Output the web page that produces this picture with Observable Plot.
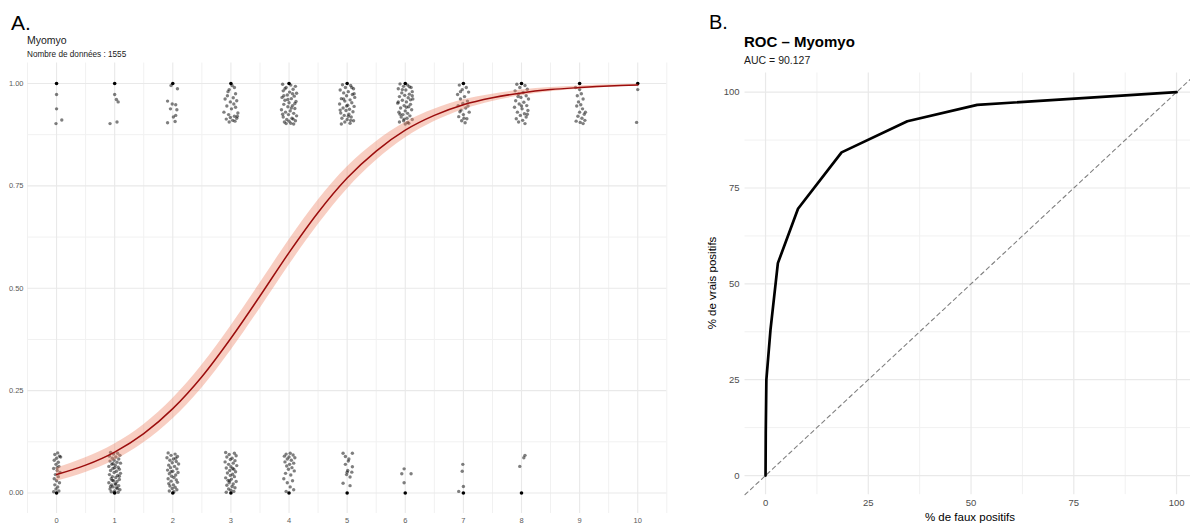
<!DOCTYPE html>
<html><head><meta charset="utf-8">
<script src="https://cdn.jsdelivr.net/npm/d3@7"></script>
<script src="https://cdn.jsdelivr.net/npm/@observablehq/plot@0.6"></script>
<style>
body{margin:0;width:1190px;height:525px;overflow:hidden;background:#fff;position:relative;font-family:"Liberation Sans",Arial,sans-serif}
.abs{position:absolute;left:0;top:0}
#A{width:680px;height:525px}
#B{width:520px;height:525px}
#A svg,#B svg{max-width:none !important}
</style></head><body>
<div id="A" class="abs"></div>
<div id="B" class="abs" style="left:680px"></div>
<svg id="T" class="abs" width="1190" height="525" style="pointer-events:none"></svg>
<script>
// ---------- Panel A data ----------
const scoreTicks = [0,1,2,3,4,5,6,7,8,9,10];
const probTicks = [0,0.25,0.5,0.75,1];
const scoreMinor = [-0.5,0.5,1.5,2.5,3.5,4.5,5.5,6.5,7.5,8.5,9.5,10.5];
const probMinor = [0.125,0.375,0.625,0.875];
const scoresWithOnes = [0,1,2,3,4,5,6,7,8,9,10];
const scoresWithZeros = [0,1,2,3,4,5,6,7,8];

const jitterOnes = [
[0.00,0.973],[0.00,0.938],[-0.01,0.902],[0.09,0.911],
[1.00,0.973],[1.03,0.961],[1.06,0.955],[0.92,0.902],[1.04,0.906],
[2.08,0.987],[1.91,0.957],[1.99,0.950],[2.05,0.948],[1.96,0.938],[2.07,0.936],[2.05,0.922],[2.01,0.918],[1.91,0.904],[2.04,0.907],[1.97,0.995],
[3.02,0.995],[3.06,0.99],[2.97,0.985],[3.08,0.975],[2.94,0.97],[3.04,0.965],[2.90,0.962],[3.10,0.958],[2.99,0.955],[3.05,0.95],[2.93,0.945],[3.08,0.942],[3.01,0.938],[2.88,0.93],[3.12,0.928],[2.96,0.924],[3.06,0.92],[2.99,0.917],[3.10,0.915],[2.92,0.913],[3.03,0.91],[3.07,0.908],[2.97,0.906],[3.11,0.92],[2.95,0.98],
[3.89,0.998],[4.03,0.996],[4.11,0.993],[3.95,0.99],[4.07,0.986],[3.90,0.982],[4.01,0.979],[4.13,0.976],[3.97,0.972],[4.09,0.969],[3.88,0.966],[4.04,0.963],[3.93,0.959],[4.12,0.956],[4.00,0.953],[3.91,0.949],[4.06,0.946],[3.98,0.943],[4.10,0.939],[3.87,0.936],[4.02,0.933],[3.94,0.93],[4.08,0.927],[3.99,0.924],[4.13,0.921],[3.90,0.918],[4.05,0.915],[3.96,0.912],[4.11,0.909],[3.92,0.906],[4.03,0.903],[4.08,0.901],[3.95,0.902],[4.00,0.908],[3.89,0.925],[4.06,0.975],[3.93,0.987],[4.10,0.951],[3.98,0.961],[4.04,0.94],[3.91,0.97],[4.07,0.913],
[4.92,0.997],[5.06,0.995],[4.97,0.99],[5.11,0.987],[4.88,0.984],[5.02,0.98],[4.94,0.977],[5.09,0.973],[4.99,0.97],[5.13,0.966],[4.90,0.963],[5.05,0.96],[4.96,0.957],[5.08,0.953],[4.87,0.95],[5.01,0.947],[5.12,0.944],[4.93,0.94],[5.04,0.937],[4.98,0.934],[5.10,0.931],[4.89,0.928],[5.03,0.925],[4.95,0.922],[5.07,0.918],[4.91,0.915],[5.00,0.912],[5.11,0.909],[4.96,0.906],[5.05,0.903],[4.90,0.901],[5.02,0.92],[4.94,0.962],[5.08,0.99],[4.99,0.945],[5.12,0.975],[4.88,0.935],[5.06,0.91],
[5.91,0.999],[6.04,0.996],[5.97,0.993],[6.10,0.99],[5.88,0.987],[6.01,0.984],[6.12,0.98],[5.94,0.977],[6.07,0.974],[5.99,0.971],[5.90,0.968],[6.05,0.965],[6.13,0.962],[5.95,0.959],[6.02,0.955],[5.87,0.952],[6.09,0.949],[5.98,0.946],[6.06,0.943],[5.92,0.94],[6.11,0.936],[6.00,0.933],[5.89,0.93],[6.04,0.927],[5.96,0.924],[6.08,0.921],[5.93,0.918],[6.03,0.915],[6.12,0.912],[5.97,0.909],[5.90,0.906],[6.06,0.903],[6.00,0.901],[5.95,0.985],[6.09,0.96],[5.91,0.925],[6.02,0.942],[6.07,0.992],[5.98,0.913],[6.12,0.97],[5.88,0.955],[6.04,0.905],
[6.93,0.996],[7.05,0.99],[6.98,0.985],[7.09,0.979],[6.90,0.973],[7.02,0.968],[6.95,0.962],[7.07,0.957],[6.99,0.951],[6.91,0.946],[7.04,0.94],[6.96,0.935],[7.10,0.93],[7.00,0.924],[6.92,0.919],[7.06,0.914],[6.97,0.909],[7.03,0.904],[6.94,0.931],[7.08,0.945],[7.01,0.915],[6.95,0.98],
[7.92,0.998],[8.06,0.995],[7.97,0.99],[8.10,0.986],[7.89,0.982],[8.03,0.978],[7.95,0.974],[8.08,0.97],[7.99,0.966],[8.12,0.962],[7.90,0.958],[8.04,0.954],[7.96,0.95],[8.09,0.946],[7.88,0.942],[8.01,0.938],[8.11,0.934],[7.93,0.93],[8.05,0.926],[7.98,0.922],[8.08,0.918],[7.91,0.914],[8.02,0.91],[7.95,0.906],[8.06,0.902],[8.00,0.945],[7.94,0.968],[8.10,0.925],
[9.00,0.985],[9.03,0.975],[8.96,0.97],[9.06,0.962],[8.98,0.955],[9.02,0.948],[8.95,0.945],[9.05,0.938],[9.00,0.93],[9.08,0.925],[8.97,0.92],[9.04,0.915],[9.09,0.91],[8.94,0.908],[9.01,0.905],[9.06,0.902],[8.93,0.99],[9.10,0.93],
[10.00,0.985],[9.98,0.905]
];

const jitterZeros = [
[0.02,0.098],[-0.03,0.094],[0.05,0.09],[0.00,0.085],[-0.04,0.08],[0.03,0.075],[-0.01,0.07],[0.04,0.065],[-0.05,0.06],[0.01,0.055],[0.06,0.05],[-0.02,0.045],[0.03,0.04],[-0.04,0.035],[0.00,0.03],[0.05,0.025],[-0.03,0.02],[0.02,0.015],[-0.01,0.01],[0.04,0.005],[-0.05,0.003],[0.01,0.062],[0.07,0.088],
[0.93,0.099],[1.05,0.097],[0.98,0.095],[1.09,0.092],[0.91,0.09],[1.02,0.088],[0.96,0.085],[1.07,0.083],[0.99,0.08],[0.92,0.078],[1.04,0.075],[1.10,0.073],[0.95,0.07],[1.01,0.068],[0.90,0.065],[1.06,0.063],[0.97,0.06],[1.08,0.058],[0.93,0.055],[1.03,0.053],[0.99,0.05],[1.10,0.048],[0.91,0.045],[1.05,0.043],[0.96,0.04],[1.02,0.038],[0.94,0.035],[1.08,0.033],[0.98,0.03],[1.04,0.028],[0.90,0.025],[1.01,0.023],[0.95,0.02],[1.07,0.018],[0.97,0.015],[1.03,0.013],[0.92,0.01],[1.09,0.008],[1.00,0.005],[0.94,0.003],[1.06,0.002],[0.99,0.001],[1.02,0.021],[0.96,0.031],[1.05,0.011],[0.93,0.016],[1.08,0.041],[1.00,0.062],[0.97,0.072],
[1.92,0.098],[2.04,0.095],[1.97,0.092],[2.08,0.089],[1.90,0.086],[2.01,0.083],[1.95,0.08],[2.06,0.077],[1.99,0.074],[2.10,0.071],[1.93,0.068],[2.03,0.065],[1.96,0.062],[2.07,0.059],[1.91,0.056],[2.00,0.053],[2.09,0.05],[1.94,0.047],[2.05,0.044],[1.98,0.041],[2.02,0.038],[1.92,0.035],[2.06,0.032],[1.97,0.029],[2.08,0.026],[1.93,0.023],[2.01,0.02],[1.95,0.017],[2.04,0.014],[1.99,0.011],[2.07,0.008],[1.94,0.005],[2.02,0.003],[1.97,0.052],[2.05,0.085],
[2.91,0.099],[3.06,0.097],[2.97,0.094],[3.09,0.091],[2.93,0.088],[3.02,0.085],[2.99,0.082],[3.07,0.079],[2.90,0.076],[3.04,0.073],[2.96,0.07],[3.10,0.067],[3.00,0.064],[2.92,0.061],[3.05,0.058],[2.98,0.055],[3.08,0.052],[2.94,0.049],[3.03,0.046],[2.99,0.043],[3.06,0.04],[2.91,0.037],[3.01,0.034],[2.95,0.031],[3.09,0.028],[2.97,0.025],[3.04,0.022],[2.93,0.019],[3.02,0.016],[3.07,0.013],[2.96,0.01],[3.00,0.007],[3.05,0.004],[2.92,0.002],[3.03,0.06],[2.98,0.03],
[3.95,0.095],[4.02,0.097],[4.07,0.093],[3.92,0.09],[4.00,0.088],[4.10,0.086],[3.97,0.083],[4.04,0.08],[3.93,0.076],[4.08,0.073],[4.01,0.07],[3.96,0.066],[4.05,0.062],[3.99,0.058],[4.09,0.054],[3.94,0.048],[4.03,0.044],[3.91,0.035],[4.06,0.03],[3.97,0.025],[4.02,0.015],[4.08,0.008],[3.95,0.004],
[4.93,0.097],[5.09,0.097],[4.97,0.089],[5.03,0.083],[5.02,0.078],[4.97,0.07],[5.09,0.064],[5.01,0.055],[5.08,0.051],[4.99,0.045],[5.05,0.039],[4.93,0.024],[5.05,0.018],[5.00,0.051],
[5.98,0.059],[5.94,0.047],[6.10,0.047],[5.98,0.025],
[6.99,0.07],[6.98,0.053],[7.00,0.016],[6.92,0.004],
[8.06,0.092],[8.04,0.086],[7.97,0.065]
];

const curveScore = [0,0.5,1,1.5,2,2.5,3,3.5,4,4.5,5,5.5,6,6.5,7,7.5,8,8.5,9,9.5,10];
const curveProb  = [0.045,0.068,0.100,0.145,0.206,0.284,0.378,0.481,0.587,0.685,0.769,0.835,0.886,0.922,0.948,0.965,0.977,0.985,0.990,0.994,0.996];
const curveLow   = [0.029,0.050,0.080,0.123,0.181,0.256,0.348,0.450,0.556,0.655,0.742,0.812,0.867,0.907,0.936,0.956,0.970,0.980,0.986,0.991,0.994];
const curveHigh  = [0.061,0.086,0.120,0.167,0.231,0.312,0.408,0.512,0.618,0.715,0.796,0.858,0.905,0.937,0.960,0.974,0.984,0.990,0.994,0.997,0.998];

// ---------- Panel B data ----------
const rocFpr = [0,0.05,0.2,1.2,3.0,7.9,18.5,34.5,51.5,100];
const rocTpr = [0,11,25,38,55.4,69.6,84.3,92.4,96.7,100];
const pctTicks = [0,25,50,75,100];
const pctMinor = [12.5,37.5,62.5,87.5];
const pctDomain = [-5,105];

// ---------- build ----------
const FONT = '"Liberation Sans",Arial,sans-serif';
const curve = curveScore.map((s,i)=>({s, p:curveProb[i], lo:curveLow[i], hi:curveHigh[i]}));
const exactPts = [...scoresWithOnes.map(s=>({s,p:1})), ...scoresWithZeros.map(s=>({s,p:0}))];
const jitter = [...jitterOnes, ...jitterZeros].map(([s,p])=>({s,p}));

const plotA = Plot.plot({
  width:680, height:525,
  marginLeft:27, marginRight:13.7, marginTop:62.5, marginBottom:12,
  x:{domain:[-0.5,10.5]}, y:{domain:[-0.05,1.05]},
  style:{fontFamily:FONT, color:"#5a5a5a", background:"transparent", overflow:"visible", maxWidth:"none"},
  marks:[
    Plot.ruleX(scoreMinor,{stroke:"#f1f1f1", strokeWidth:1}),
    Plot.ruleY(probMinor,{stroke:"#f1f1f1", strokeWidth:1}),
    Plot.ruleX(scoreTicks,{stroke:"#e9e9e9", strokeWidth:1.1}),
    Plot.ruleY(probTicks,{stroke:"#e9e9e9", strokeWidth:1.1}),
    Plot.dot(jitter,{x:"s", y:"p", r:1.7, fill:"#000", fillOpacity:0.5, stroke:null}),
    Plot.dot(exactPts,{x:"s", y:"p", r:1.8, fill:"#000", stroke:null}),
    Plot.areaY(curve,{x:"s", y1:"lo", y2:"hi", fill:"#ee8466", fillOpacity:0.4, curve:"monotone-x"}),
    Plot.line(curve,{x:"s", y:"p", stroke:"#9b0d0d", strokeWidth:1.5, curve:"monotone-x"}),
    Plot.axisX({ticks:scoreTicks, tickSize:0, tickPadding:4.5, fontSize:7.5, label:null, tickFormat:d=>String(d)}),
    Plot.axisY({ticks:probTicks, tickSize:0, tickPadding:4, fontSize:7.5, label:null, tickFormat:d3.format(".2f")})
  ]
});
document.getElementById("A").appendChild(plotA);

const roc = rocFpr.map((f,i)=>({f, t:rocTpr[i]}));
const diag = pctDomain.map(v=>({f:v, t:v}));
const plotB = Plot.plot({
  width:520, height:525,
  marginLeft:64.5, marginRight:3.4, marginTop:72.5, marginBottom:30.8,
  x:{domain:pctDomain}, y:{domain:pctDomain},
  style:{fontFamily:FONT, color:"#4d4d4d", background:"transparent", overflow:"visible", maxWidth:"none"},
  marks:[
    Plot.ruleX(pctMinor,{stroke:"#f1f1f1", strokeWidth:1}),
    Plot.ruleY(pctMinor,{stroke:"#f1f1f1", strokeWidth:1}),
    Plot.ruleX(pctTicks,{stroke:"#e9e9e9", strokeWidth:1.2}),
    Plot.ruleY(pctTicks,{stroke:"#e9e9e9", strokeWidth:1.2}),
    Plot.line(diag,{x:"f", y:"t", stroke:"#808080", strokeWidth:1.1, strokeDasharray:"4,3.5"}),
    Plot.line(roc,{x:"f", y:"t", stroke:"#000", strokeWidth:2.7, strokeLinejoin:"round"}),
    Plot.axisX({ticks:pctTicks, tickSize:0, tickPadding:5, fontSize:9.5, label:null}),
    Plot.axisY({ticks:pctTicks, tickSize:0, tickPadding:5.5, fontSize:9.5, label:null})
  ]
});
document.getElementById("B").appendChild(plotB);

// ---------- titles and labels ----------
const T = d3.select("#T").style("font-family", FONT);
function txt(x,y,s,size,opts={}){
  const t = T.append("text").attr("x",x).attr("y",y).attr("font-size",size).attr("fill",opts.fill||"#000").text(s);
  if(opts.weight) t.attr("font-weight",opts.weight);
  if(opts.anchor) t.attr("text-anchor",opts.anchor);
  if(opts.rotate) t.attr("transform",`rotate(-90,${x},${y})`);
  return t;
}
txt(11,30,"A.",21);
txt(27,44,"Myomyo",10.5,{fill:"#1a1a1a"});
txt(27,57,"Nombre de données : 1555",8.2,{fill:"#1a1a1a"});
txt(709,29,"B.",20);
txt(744,47,"ROC – Myomyo",15,{weight:"bold"});
txt(744,64,"AUC = 90.127",10.5,{fill:"#1a1a1a"});
txt(970,521,"% de faux positifs",11.5,{anchor:"middle"});
txt(716,283,"% de vrais positifs",11.5,{anchor:"middle", rotate:true});
</script>
</body></html>
